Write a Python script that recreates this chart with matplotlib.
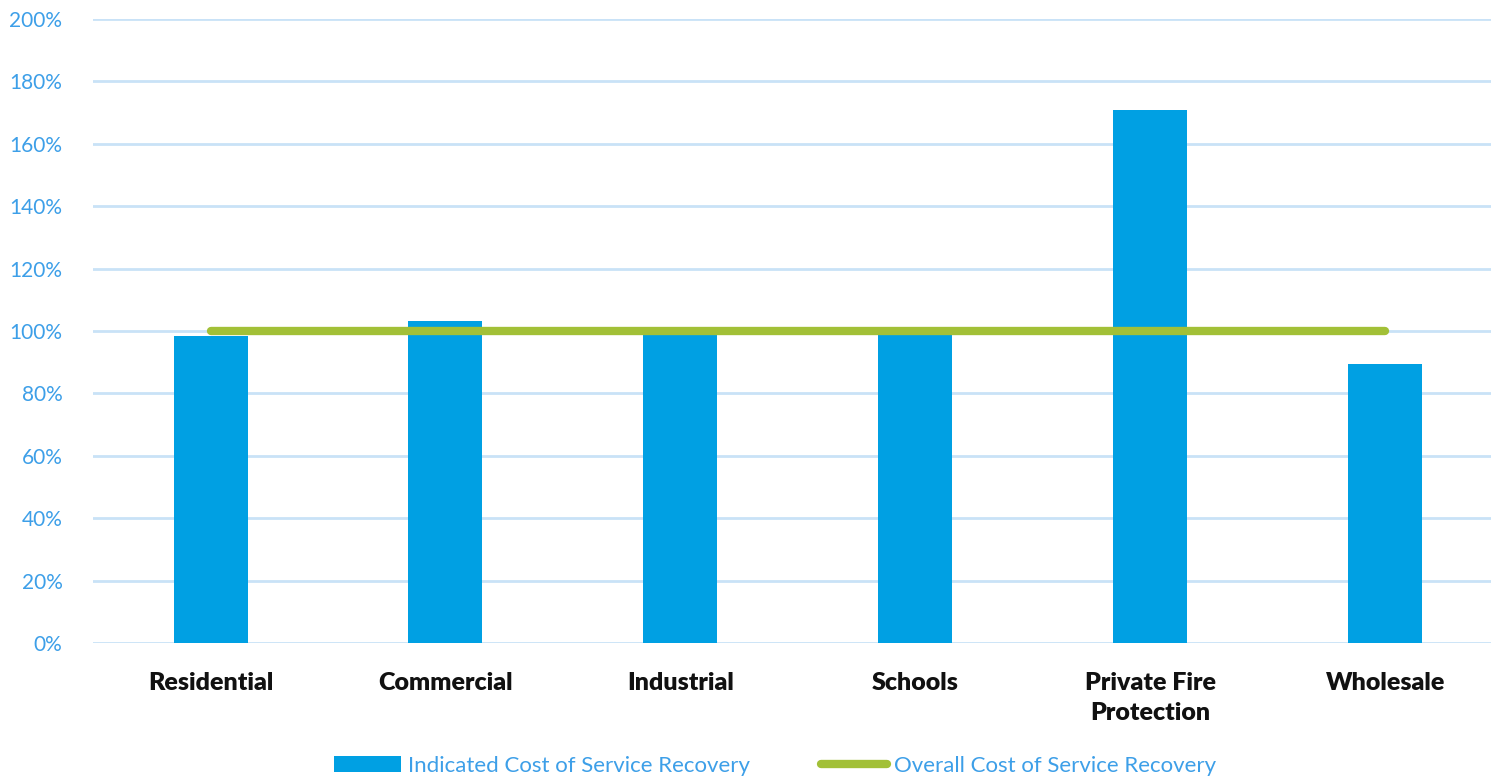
import matplotlib.pyplot as plt
import numpy as np
from matplotlib.ticker import PercentFormatter
from matplotlib.patches import Patch
from matplotlib.lines import Line2D

plt.rcParams['font.family'] = ['Lato', 'DejaVu Sans']

categories = ["Residential", "Commercial", "Industrial", "Schools",
              "Private Fire\nProtection", "Wholesale"]
indicated = [0.984, 1.033, 0.994, 0.994, 1.708, 0.894]
overall = [1.0, 1.0, 1.0, 1.0, 1.0, 1.0]
yticks = [0, 0.2, 0.4, 0.6, 0.8, 1.0, 1.2, 1.4, 1.6, 1.8, 2.0]

bar_color = "#00a0e3"
line_color = "#a2c037"
text_blue = "#3d9fe8"
grid_color = "#c9e2f7"

fig = plt.figure(figsize=(14.91, 7.79), dpi=100)
ax = fig.add_axes([0.0624, 0.1746, 0.9376, 0.801])

x = np.arange(len(categories))
ax.bar(x, indicated, width=0.315, color=bar_color, zorder=2)
ax.plot(x, overall, color=line_color, lw=6, solid_capstyle='round', zorder=3)

ax.set_ylim(0, 2.0)
ax.set_xlim(-0.5, 5.45)
ax.set_yticks(yticks)
ax.yaxis.set_major_formatter(PercentFormatter(1.0, decimals=0))
ax.grid(axis='y', color=grid_color, lw=2, zorder=0)
ax.set_axisbelow(True)
for s in ax.spines.values():
    s.set_visible(False)
ax.tick_params(axis='both', length=0)
ax.tick_params(axis='y', labelsize=15, labelcolor=text_blue, pad=22)
ax.set_xticks(x)
ax.set_xticklabels(categories, fontsize=18, fontweight='heavy', color='#111111',
                   linespacing=1.45)
ax.tick_params(axis='x', pad=21)

handles = [Patch(facecolor=bar_color, edgecolor='none'),
           Line2D([0], [0], color=line_color, lw=6, solid_capstyle='round')]
labels = ["Indicated Cost of Service Recovery", "Overall Cost of Service Recovery"]
fig.legend(handles, labels, loc='center', bbox_to_anchor=(0.52, 0.017),
           ncol=2, frameon=False, fontsize=16, labelcolor=text_blue,
           handlelength=3.0, handletextpad=0.3, columnspacing=3.2)

fig.savefig("out.png", dpi=100)
